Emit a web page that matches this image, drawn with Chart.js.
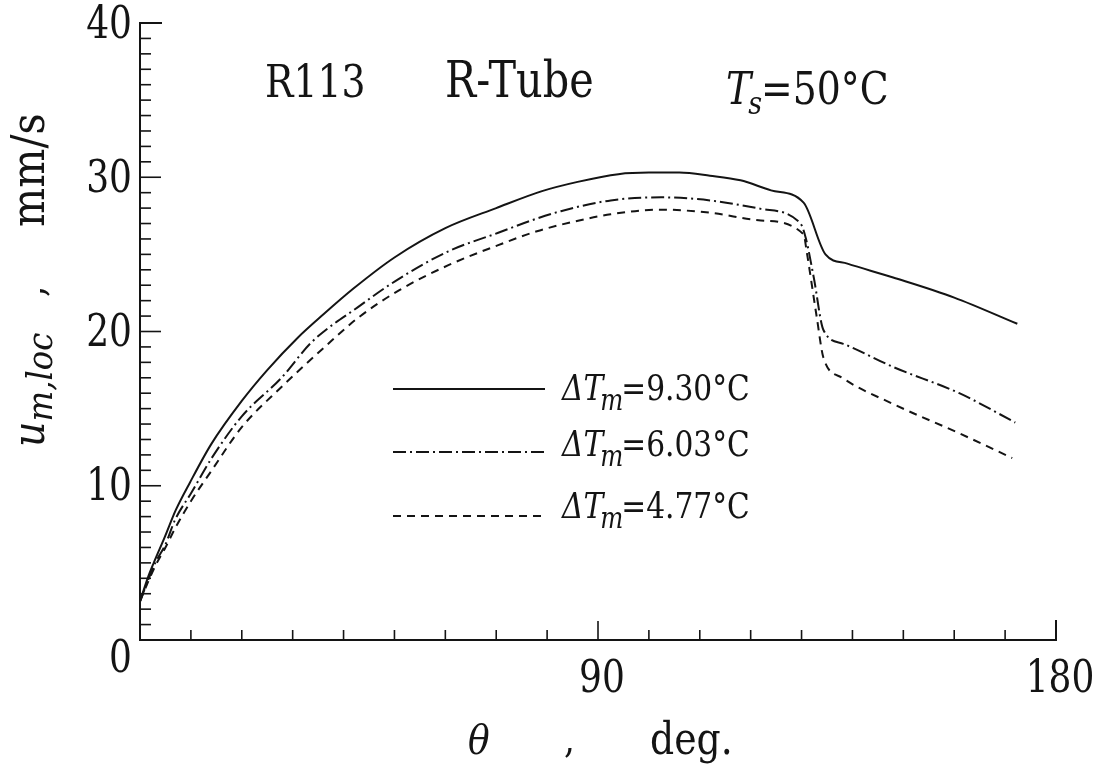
<!DOCTYPE html>
<html>
<head>
<meta charset="utf-8">
<script src="https://cdn.jsdelivr.net/npm/chart.js@4.4.1/dist/chart.umd.min.js"></script>
<style>
  html, body { margin: 0; padding: 0; background: #fff; }
  #wrap { width: 1110px; height: 775px; position: relative; }
</style>
</head>
<body>
<div id="wrap"><canvas id="chart"></canvas></div>
<script>
// angle theta (deg) and local velocity u_m,loc (mm/s), one pair per wall superheat
const theta930 = [0, 1.5, 2.7, 4.9, 7, 9.8, 14, 20, 25, 31, 36, 42, 50, 60, 70, 79, 86, 94, 100, 106, 112, 118, 124, 130.4, 134.7, 139, 148, 160, 172.4];
const u930     = [2.5, 4.0, 5.0, 6.7, 8.4, 10.2, 12.7, 15.5, 17.5, 19.6, 21.1, 22.8, 24.8, 26.7, 28.0, 29.1, 29.7, 30.2, 30.3, 30.3, 30.1, 29.8, 29.15, 28.35, 25.0, 24.4, 23.5, 22.2, 20.5];

const theta603 = [0, 1.5, 3, 5, 6.9, 10, 14.1, 20, 27.8, 33.7, 42.9, 50.8, 60.6, 70.4, 76.9, 82.7, 92.5, 102.4, 112, 122, 129.8, 130.8, 132.4, 134.3, 138.2, 148, 161, 172];
const u603     = [2.5, 3.8, 5.0, 6.2, 7.8, 9.5, 11.8, 14.5, 17.0, 19.3, 21.6, 23.4, 25.2, 26.4, 27.2, 27.8, 28.5, 28.7, 28.5, 27.95, 27.0, 26.1, 23.5, 20.1, 19.2, 17.7, 16.0, 14.1];

const theta477 = [0, 1.5, 3, 5, 7, 10, 14.1, 20, 27.8, 36.3, 42.9, 50.8, 60.6, 70.4, 78, 86.3, 92.5, 102.4, 112, 122, 130.4, 131, 133, 134.3, 138, 148, 161, 171.4];
const u477     = [2.5, 3.7, 4.8, 6.0, 7.3, 9.0, 11.0, 13.8, 16.4, 19.0, 20.9, 22.65, 24.3, 25.6, 26.5, 27.2, 27.6, 27.9, 27.7, 27.2, 26.3, 25.2, 20.9, 18.3, 17.0, 15.3, 13.4, 11.8];

const deltaTm = ["9.30", "6.03", "4.77"];
const xTickLabels = [90, 180];
const yTickLabels = [0, 10, 20, 30, 40];

const INK = "#141414";
const SERIF = '"DejaVu Serif Condensed", "DejaVu Serif", serif';
const dashes = [[], [13, 4, 2, 4], [8, 6]];

function pts(xs, ys) { return xs.map((x, i) => ({ x: x, y: ys[i] })); }

// draw a run of text pieces (italic / sub) starting at x, baseline y
function run(ctx, x, y, pieces, sy) {
  let cx = x;
  pieces.forEach(p => {
    ctx.save();
    ctx.font = (p.it ? "italic " : "normal ") + p.s + "px " + SERIF;
    ctx.textAlign = "left";
    ctx.textBaseline = "alphabetic";
    cx += p.dx || 0;
    ctx.translate(cx, y + (p.dy || 0));
    ctx.scale(1, sy || 1);
    ctx.fillText(p.t, 0, 0);
    cx += ctx.measureText(p.t).width;
    ctx.restore();
  });
  return cx;
}

function label(ctx, s, x, y, size, align, sy) {
  ctx.save();
  ctx.font = "normal " + size + "px " + SERIF;
  ctx.textAlign = align;
  ctx.textBaseline = "middle";
  ctx.translate(x, y);
  ctx.scale(1, sy);
  ctx.fillText(s, 0, 0);
  ctx.restore();
}

// axes with inward ticks, tick labels, titles and the legend
const frame = {
  id: "frame",
  afterDraw(chart) {
    const ctx = chart.ctx;
    const xs = chart.scales.x, ys = chart.scales.y;
    const X = v => xs.getPixelForValue(v), Y = v => ys.getPixelForValue(v);
    ctx.save();
    ctx.strokeStyle = INK;
    ctx.fillStyle = INK;
    ctx.lineWidth = 2;
    ctx.setLineDash([]);

    ctx.beginPath();
    ctx.moveTo(X(0) + 22, Y(40));
    ctx.lineTo(X(0), Y(40));
    ctx.lineTo(X(0), Y(0));
    ctx.lineTo(X(180), Y(0));
    ctx.lineTo(X(180), Y(0) - 20);
    ctx.stroke();

    ctx.lineWidth = 1.6;
    for (let v = 1; v < 40; v++) {
      const len = v % 10 === 0 ? 21 : 11;
      ctx.beginPath();
      ctx.moveTo(X(0), Y(v));
      ctx.lineTo(X(0) + len, Y(v));
      ctx.stroke();
    }
    for (let v = 10; v < 180; v += 10) {
      const len = v % 90 === 0 ? 19 : 10;
      ctx.beginPath();
      ctx.moveTo(X(v), Y(0));
      ctx.lineTo(X(v), Y(0) - len);
      ctx.stroke();
    }

    yTickLabels.forEach(v => {
      const dy = v === 0 ? 20 : 3;
      label(ctx, String(v), X(0) - 8, Y(v) + dy, 40, "right", 1.12);
    });
    xTickLabels.forEach(v => {
      label(ctx, String(v), X(v) + 4, Y(0) + 40, 40, "center", 1.12);
    });

    // axis titles
    run(ctx, 468, 754, [{ t: "\u03B8", it: 1, s: 40 }], 1.05);
    run(ctx, 564, 752, [{ t: ",", s: 38 }], 1.05);
    run(ctx, 650, 754, [{ t: "deg.", s: 42 }], 1.05);

    ctx.save();
    ctx.translate(44, 447);
    ctx.rotate(-Math.PI / 2);
    run(ctx, 0, 0, [{ t: "u", it: 1, s: 44 }, { t: "m,loc", it: 1, s: 36, dy: 8 }], 1);
    run(ctx, 150, 0, [{ t: ",", s: 40 }], 1);
    run(ctx, 220, 0, [{ t: "mm/s", s: 46 }], 1);
    ctx.restore();

    // header annotations
    run(ctx, 265, 97, [{ t: "R113", s: 42 }], 1.08);
    run(ctx, 445, 97, [{ t: "R-Tube", s: 46 }], 1.08);
    run(ctx, 726, 104, [
      { t: "T", it: 1, s: 42 },
      { t: "s", it: 1, s: 30, dy: 10, dx: -3 },
      { t: "=50\u00B0C", s: 42, dx: -1 }
    ], 1.08);

    // legend
    const lineY = [389, 452, 516];
    const textY = [400, 456, 518];
    chart.data.datasets.forEach((ds, i) => {
      ctx.save();
      ctx.lineWidth = 2;
      ctx.setLineDash(ds.borderDash || []);
      ctx.beginPath();
      ctx.moveTo(393, lineY[i]);
      ctx.lineTo(545, lineY[i]);
      ctx.stroke();
      ctx.restore();
      run(ctx, 562, textY[i], [
        { t: "\u0394", it: 1, s: 33 },
        { t: "T", it: 1, s: 33 },
        { t: "m", it: 1, s: 27, dy: 10, dx: -3 },
        { t: "=" + deltaTm[i] + "\u00B0C", s: 33, dx: -2 }
      ], 1.1);
    });

    ctx.restore();
  }
};

const series = [pts(theta930, u930), pts(theta603, u603), pts(theta477, u477)];

new Chart(document.getElementById("chart"), {
  type: "line",
  data: {
    datasets: series.map((d, i) => ({
      label: "\u0394Tm=" + deltaTm[i] + "\u00B0C",
      data: d,
      borderColor: INK,
      borderWidth: 2,
      borderDash: dashes[i],
      pointRadius: 0,
      fill: false,
      cubicInterpolationMode: "monotone"
    }))
  },
  options: {
    responsive: true,
    maintainAspectRatio: false,
    animation: false,
    layout: { padding: { left: 140, right: 54, top: 23, bottom: 135 } },
    plugins: { legend: { display: false }, tooltip: { enabled: false }, title: { display: false } },
    scales: {
      x: { type: "linear", min: 0, max: 180, display: false },
      y: { min: 0, max: 40, display: false }
    }
  },
  plugins: [frame]
});
</script>
</body>
</html>
